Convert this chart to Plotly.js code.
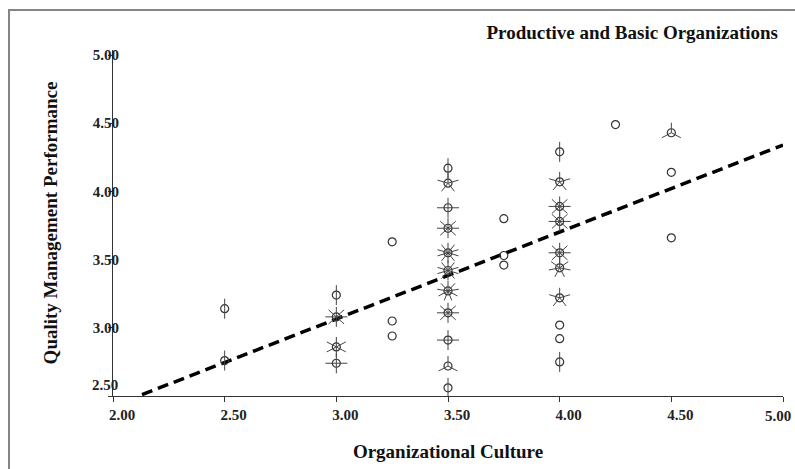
<!DOCTYPE html>
<html><head><meta charset="utf-8">
<script src="https://cdn.plot.ly/plotly-3.0.1.min.js"></script>
<style>
html,body{margin:0;padding:0;background:#fff}
#wrap{position:relative;width:795px;height:469px;overflow:hidden}
#chart{width:795px;height:469px}
#frame{position:absolute;left:8px;top:9px;right:-10px;bottom:-10px;border-top:2px solid #858585;border-left:2px solid #858585;pointer-events:none}
</style>
</head><body>
<div id="wrap"><div id="chart"></div><div id="frame"></div></div>
<script>
// Organizational Culture (x), Quality Management Performance (y), sunflower petal counts
const cultureX = [2.5, 2.5,
  3.0, 3.0, 3.0, 3.0,
  3.25, 3.25, 3.25,
  3.5, 3.5, 3.5, 3.5, 3.5, 3.5, 3.5, 3.5, 3.5, 3.5, 3.5,
  3.75, 3.75, 3.75,
  4.0, 4.0, 4.0, 4.0, 4.0, 4.0, 4.0, 4.0, 4.0, 4.0,
  4.25,
  4.5, 4.5, 4.5];
const qualityY = [3.14, 2.76,
  3.24, 3.08, 2.86, 2.74,
  3.63, 3.05, 2.94,
  4.17, 4.06, 3.88, 3.73, 3.55, 3.42, 3.27, 3.11, 2.91, 2.72, 2.56,
  3.80, 3.53, 3.46,
  4.29, 4.07, 3.89, 3.78, 3.55, 3.44, 3.22, 3.02, 2.92, 2.75,
  4.49,
  4.43, 4.14, 3.66];
const sunflowerCount = [2, 2,
  2, 8, 6, 4,
  1, 1, 1,
  2, 5, 4, 8, 10, 10, 9, 8, 4, 3, 2,
  1, 1, 1,
  2, 5, 8, 8, 8, 7, 5, 1, 1, 2,
  1,
  3, 1, 1];
const xTickVals = [2.0, 2.5, 3.0, 3.5, 4.0, 4.5, 5.0];
const xTickText = ['2.00', '2.50', '3.00', '3.50', '4.00', '4.50', '5.00'];
const yTickVals = [2.5, 3.0, 3.5, 4.0, 4.5, 5.0];
const yTickText = ['2.50', '3.00', '3.50', '4.00', '4.50', '5.00'];
// fitted regression line end points
const fitX = [2.13, 5.0];
const fitY = [2.51, 4.34];

const petalRx = 11, petalRy = 10;
const shapes = [];
for (let i = 0; i < cultureX.length; i++) {
  const n = sunflowerCount[i];
  if (n < 2) continue;
  for (let k = 0; k < n; k++) {
    const th = Math.PI / 2 + k * 2 * Math.PI / n;
    shapes.push({
      type: 'line', xref: 'x', yref: 'y',
      xsizemode: 'pixel', ysizemode: 'pixel',
      xanchor: cultureX[i], yanchor: qualityY[i],
      x0: 0, y0: 0,
      x1: petalRx * Math.cos(th), y1: petalRy * Math.sin(th),
      line: {color: '#444', width: 1}
    });
  }
}

const serif = 'Liberation Serif, Times New Roman, serif';
const tickFont = {family: serif, size: 15, color: '#222', weight: 'bold'};
const titleFont = {family: serif, size: 19, color: '#111', weight: 'bold'};

// corner labels are placed by hand so they stay inside the picture
const yTickShown = yTickText.map((t, i) => i === 0 ? '' : t);
const xLast = xTickText.length - 1;
const xTickShown = xTickText.map((t, i) => i === xLast ? '' : t);

const traces = [
  {
    x: fitX, y: fitY, type: 'scatter', mode: 'lines',
    line: {color: '#000', width: 3.5, dash: '11px,6px'},
    hoverinfo: 'skip', cliponaxis: false
  },
  {
    x: cultureX, y: qualityY, type: 'scatter', mode: 'markers',
    marker: {symbol: 'circle-open', size: 8, color: '#333', line: {color: '#333', width: 1.2}},
    cliponaxis: false
  }
];

const layout = {
  width: 795, height: 469,
  margin: {l: 113, r: 12, t: 50, b: 73},
  paper_bgcolor: '#fff', plot_bgcolor: '#fff',
  showlegend: false,
  title: {
    text: 'Productive and Basic Organizations', font: titleFont,
    xref: 'paper', x: 0.9925, xanchor: 'right',
    yref: 'container', y: 1 - 32 / 469, yanchor: 'middle'
  },
  xaxis: {
    range: [2, 5], tickmode: 'array', tickvals: xTickVals, ticktext: xTickShown,
    ticks: 'outside', ticklen: 5, tickcolor: '#333', tickwidth: 1,
    showline: true, linecolor: '#333', linewidth: 1,
    showgrid: false, zeroline: false, automargin: false,
    ticklabelshift: 9, tickfont: tickFont,
    title: {text: 'Organizational Culture', font: titleFont, standoff: 22}
  },
  yaxis: {
    range: [2.5, 5.0367], tickmode: 'array', tickvals: yTickVals, ticktext: yTickShown,
    ticks: 'outside', ticklen: 4, tickcolor: '#333', tickwidth: 1,
    showline: true, linecolor: '#333', linewidth: 1,
    showgrid: false, zeroline: false, automargin: false,
    ticklabelstandoff: -14, tickfont: tickFont,
    title: {text: 'Quality Management Performance', font: titleFont, standoff: 30}
  },
  annotations: [
    {
      text: yTickText[0], xref: 'paper', yref: 'y', x: 0, y: yTickVals[0],
      xanchor: 'right', yanchor: 'middle', xshift: 7, yshift: 11,
      showarrow: false, font: tickFont
    },
    {
      text: xTickText[xLast], xref: 'x', yref: 'paper', x: xTickVals[xLast], y: 0,
      xanchor: 'right', yanchor: 'top', xshift: 10, yshift: -10,
      showarrow: false, font: tickFont
    }
  ],
  shapes: shapes
};

Plotly.newPlot('chart', traces, layout, {staticPlot: true, displayModeBar: false});
</script>
</body></html>
